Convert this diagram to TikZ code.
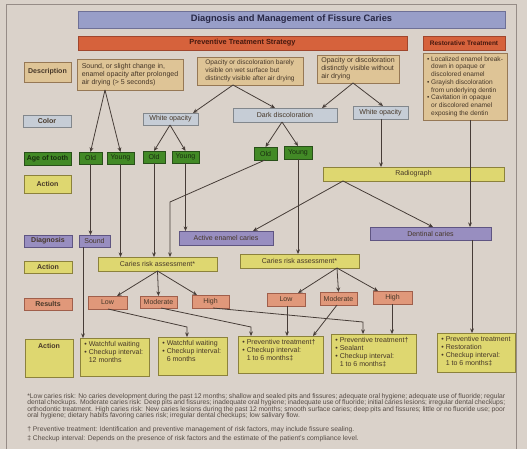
\documentclass[tikz,border=0pt]{standalone}
\usepackage{fontspec}
\setmainfont{Liberation Sans}
\usetikzlibrary{arrows.meta,calc}
\definecolor{bg}{RGB}{218,210,202}
\definecolor{frame}{RGB}{150,140,135}
\definecolor{txt}{RGB}{70,55,40}
\definecolor{titlef}{RGB}{152,158,200}
\definecolor{titled}{RGB}{110,112,150}
\definecolor{titlet}{RGB}{40,40,70}
\definecolor{orf}{RGB}{214,98,60}
\definecolor{ord}{RGB}{160,70,45}
\definecolor{ort}{RGB}{70,25,15}
\definecolor{tanf}{RGB}{222,196,150}
\definecolor{tand}{RGB}{150,120,85}
\definecolor{colf}{RGB}{198,205,214}
\definecolor{cold}{RGB}{130,135,140}
\definecolor{grnf}{RGB}{66,138,38}
\definecolor{grnd}{RGB}{40,80,25}
\definecolor{grnt}{RGB}{25,45,15}
\definecolor{ylwf}{RGB}{222,215,112}
\definecolor{ylwd}{RGB}{140,130,60}
\definecolor{purf}{RGB}{152,142,192}
\definecolor{purd}{RGB}{95,85,130}
\definecolor{salf}{RGB}{224,152,122}
\definecolor{sald}{RGB}{160,95,75}
\definecolor{arrc}{RGB}{70,60,55}
\definecolor{fnt}{RGB}{85,75,68}
\newcommand\fs{\fontsize{4}{4.6}\selectfont}
\newcommand\fss{\fontsize{3.75}{4.4}\selectfont}
\newcommand\ind{\hphantom{\textbullet\ }}
\newcommand\mybox[7]{\node[#1,minimum width={(#5-#3)*0.02cm},minimum height={(#6-#4)*0.02cm}] (#2) at ({(#3+#5)/2},{(#4+#6)/2}) {#7};}
\tikzset{
 base/.style={draw, inner sep=0pt, outer sep=0pt, line width=0.35pt, font=\fs, text=txt},
 titlebar/.style={base, fill=titlef, draw=titled, font=\fontsize{5.3}{6}\selectfont\bfseries, text=titlet},
 orangebar/.style={base, fill=orf, draw=ord, font=\fontsize{4.2}{5}\selectfont\bfseries, text=ort},
 tanbox/.style={base, fill=tanf, draw=tand, align=left},
 lbl/.style={font=\fs\bfseries},
 colbox/.style={base, fill=colf, draw=cold},
 grnbox/.style={base, fill=grnf, draw=grnd, text=grnt},
 ylwbox/.style={base, fill=ylwf, draw=ylwd},
 purbox/.style={base, fill=purf, draw=purd},
 salbox/.style={base, fill=salf, draw=sald},
 arr/.style={draw=arrc, line width=0.45pt, -{Stealth[length=2.6pt,width=2.2pt]}},
 atext/.style={font=\fs, text=txt, align=left, inner sep=0pt, anchor=north west},
 fn/.style={font=\fontsize{3.85}{3.7}\selectfont, text=fnt, align=left, inner sep=0pt, anchor=north west},
}
\begin{document}
\begin{tikzpicture}[x=0.02cm,y=-0.02cm]
\path[use as bounding box, fill=bg] (0,0) rectangle (527,449);
\draw[frame, line width=0.4pt] (6,449) -- (6,4) -- (516,4) -- (516,449);
% bars
\mybox{titlebar}{title}{78}{11}{505}{28}{Diagnosis and Management of Fissure Caries}
\mybox{orangebar}{prev}{78}{36}{407}{50}{Preventive Treatment Strategy}
\mybox{orangebar,font=\fontsize{3.7}{4.5}\selectfont\bfseries}{rest}{423}{36}{505}{50}{Restorative Treatment}
% row labels
\mybox{tanbox,lbl}{lDesc}{24}{62}{71}{82}{Description}
\mybox{colbox,lbl}{lColor}{23}{115}{71}{127}{Color}
\mybox{grnbox,lbl}{lAge}{24}{152}{71}{165}{Age of tooth}
\mybox{ylwbox,lbl}{lAct1}{24}{175}{71}{193}{Action}
\mybox{purbox,lbl}{lDiag}{24}{235}{72}{247}{Diagnosis}
\mybox{ylwbox,lbl}{lAct2}{24}{261}{72}{273}{Action}
\mybox{salbox,lbl}{lRes}{24}{298}{72}{310}{Results}
\mybox{ylwbox}{lAct3}{25}{339}{73}{377}{}
\node[atext, font=\fs\bfseries, anchor=north] (lAct3t) at ($(lAct3.north)+(0,4)$) {Action};
% descriptions
\mybox{tanbox}{d1}{77}{59}{183}{90}{Sound, or slight change in,\\enamel opacity after prolonged\\air drying (> 5 seconds)}
\mybox{tanbox,font=\fss}{d2}{197}{57}{303}{85}{Opacity or discoloration barely\\visible on wet surface but\\distinctly visible after air drying}
\mybox{tanbox}{d3}{317}{55}{399}{83}{Opacity or discoloration\\distinctly visible without\\air drying}
\mybox{tanbox,font=\fss}{dR}{423}{53}{507}{120}{\textbullet\ Localized enamel break-\\\ind down in opaque or\\\ind discolored enamel\\\textbullet\ Grayish discoloration\\\ind from underlying dentin\\\textbullet\ Cavitation in opaque\\\ind or discolored enamel\\\ind exposing the dentin}
% color
\mybox{colbox}{w1}{143}{113}{198}{125}{White opacity}
\mybox{colbox}{dk}{233}{108}{337}{122}{Dark discoloration}
\mybox{colbox}{w2}{353}{106}{408}{119}{White opacity}
% age
\mybox{grnbox}{o1}{79}{152}{102}{164}{Old}
\mybox{grnbox}{y1}{107}{152}{134}{164}{Young}
\mybox{grnbox}{o2}{143}{151}{165}{163}{Old}
\mybox{grnbox}{y2}{172}{151}{199}{163}{Young}
\mybox{grnbox}{o3}{254}{147}{277}{160}{Old}
\mybox{grnbox}{y3}{284}{146}{312}{159}{Young}
% radiograph
\mybox{ylwbox}{rad}{323}{167}{504}{181}{Radiograph}
% diagnosis
\mybox{purbox}{snd}{79}{235}{110}{247}{Sound}
\mybox{purbox}{aec}{179}{231}{273}{245}{Active enamel caries}
\mybox{purbox}{dc}{370}{227}{491}{240}{Dentinal caries}
% caries risk
\mybox{ylwbox}{c1}{98}{257}{217}{271}{Caries risk assessment*}
\mybox{ylwbox}{c2}{240}{254}{359}{268}{Caries risk assessment*}
% results
\mybox{salbox}{lo1}{88}{296}{127}{309}{Low}
\mybox{salbox}{mo1}{140}{296}{177}{308}{Moderate}
\mybox{salbox}{hi1}{192}{295}{229}{308}{High}
\mybox{salbox}{lo2}{267}{293}{305}{306}{Low}
\mybox{salbox}{mo2}{320}{292}{357}{305}{Moderate}
\mybox{salbox}{hi2}{373}{291}{412}{304}{High}
% action boxes
\mybox{ylwbox}{aA}{80}{338}{149}{376}{}
\mybox{ylwbox}{aB}{158}{337}{227}{375}{}
\mybox{ylwbox}{aC}{238}{336}{323}{373}{}
\mybox{ylwbox}{aD}{331}{334}{416}{373}{}
\mybox{ylwbox}{aE}{437}{333}{515}{372}{}
\node[atext] (aAt) at ($(aA.north west)+(4,3)$) {\textbullet\ Watchful waiting\\\textbullet\ Checkup interval:\\\ind 12 months};
\node[atext] (aBt) at ($(aB.north west)+(4,3)$) {\textbullet\ Watchful waiting\\\textbullet\ Checkup interval:\\\ind 6 months};
\node[atext] (aCt) at ($(aC.north west)+(4,3)$) {\textbullet\ Preventive treatment†\\\textbullet\ Checkup interval:\\\ind 1 to 6 months‡};
\node[atext] (aDt) at ($(aD.north west)+(4,3)$) {\textbullet\ Preventive treatment†\\\textbullet\ Sealant\\\textbullet\ Checkup interval:\\\ind 1 to 6 months‡};
\node[atext] (aEt) at ($(aE.north west)+(4,3)$) {\textbullet\ Preventive treatment\\\textbullet\ Restoration\\\textbullet\ Checkup interval:\\\ind 1 to 6 months‡};
% connectors
\draw[arr] (105,0 |- d1.south) -- (o1.north);
\draw[arr] (105,0 |- d1.south) -- (y1.north);
\draw[arr] (233,0 |- d2.south) -- (193,0 |- w1.north);
\draw[arr] (233,0 |- d2.south) -- (275,0 |- dk.north);
\draw[arr] (353,0 |- d3.south) -- (322,0 |- dk.north);
\draw[arr] (353,0 |- d3.south) -- (383,0 |- w2.north);
\draw[arr] (170,0 |- w1.south) -- (o2.north);
\draw[arr] (170,0 |- w1.south) -- (y2.north);
\draw[arr] (282,0 |- dk.south) -- (o3.north);
\draw[arr] (282,0 |- dk.south) -- (y3.north);
\draw[arr] (381,0 |- w2.south) -- (381,0 |- rad.north);
\draw[arr] (470,0 |- dR.south) -- (470,0 |- dc.north);
\draw[arr] (343,0 |- rad.south) -- (253,0 |- aec.north);
\draw[arr] (343,0 |- rad.south) -- (433,0 |- dc.north);
\draw[arr] (o1.south) -- (90.5,0 |- snd.north);
\draw[arr] (y1.south) -- (120.5,0 |- c1.north);
\draw[arr] (o2.south) -- (154,0 |- c1.north);
\draw[arr] (y2.south) -- (185.5,0 |- aec.north);
\coordinate (k1) at (170,202);
\draw[arr] (265,0 |- o3.south) -- (k1) -- (170,0 |- c1.north);
\draw[arr] (y3.south) -- (298,0 |- c2.north);
\draw[arr] (83,0 |- snd.south) -- (83,0 |- aA.north);
\draw[arr] (c1.south) -- (117,0 |- lo1.north);
\draw[arr] (c1.south) -- (mo1.north);
\draw[arr] (c1.south) -- (197,0 |- hi1.north);
\coordinate (k2) at (187,327);
\coordinate (k3) at (251,327);
\coordinate (k4) at (363,322);
\draw[arr] (108,0 |- lo1.south) -- (k2) -- (187,0 |- aB.north);
\draw[arr] (161,0 |- mo1.south) -- (k3) -- (251,0 |- aC.north);
\draw[arr] (213,0 |- hi1.south) -- (k4) -- (363,0 |- aD.north);
\draw[arr] (337,0 |- c2.south) -- (298,0 |- lo2.north);
\draw[arr] (337,0 |- c2.south) -- (338.5,0 |- mo2.north);
\draw[arr] (337,0 |- c2.south) -- (378,0 |- hi2.north);
\draw[arr] (287,0 |- lo2.south) -- (287,0 |- aC.north);
\draw[arr] (337,0 |- mo2.south) -- (313,0 |- aC.north);
\draw[arr] (392,0 |- hi2.south) -- (392,0 |- aD.north);
\draw[arr] (472,0 |- dc.south) -- (472,0 |- aE.north);
% footnotes
\node[fn] (fn1) at (27,393) {\makebox[9.56cm][s]{*Low caries risk: No caries development during the past 12 months; shallow and sealed pits and fissures; adequate oral hygiene; adequate use of fluoride; regular}\\
\makebox[9.56cm][s]{dental checkups. Moderate caries risk: Deep pits and fissures; inadequate oral hygiene; inadequate use of fluoride; initial caries lesions; irregular dental checkups;}\\
\makebox[9.56cm][s]{orthodontic treatment. High caries risk: New caries lesions during the past 12 months; smooth surface caries; deep pits and fissures; little or no fluoride use; poor}\\
oral hygiene; dietary habits favoring caries risk; irregular dental checkups; low salivary flow.};
\node[fn] (fn2) at (27,426) {† Preventive treatment: Identification and preventive management of risk factors, may include fissure sealing.};
\node[fn] (fn3) at (27,435) {‡ Checkup interval: Depends on the presence of risk factors and the estimate of the patient’s compliance level.};
\end{tikzpicture}
\end{document}
